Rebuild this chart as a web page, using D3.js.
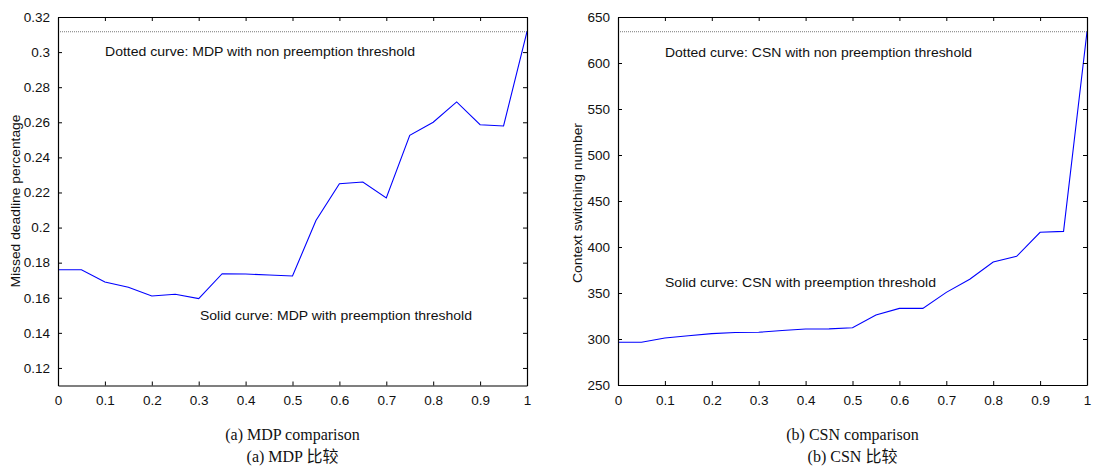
<!DOCTYPE html>
<html>
<head>
<meta charset="utf-8">
<script src="https://cdn.jsdelivr.net/npm/d3@7"></script>
<style>
  body { margin: 0; background: #fff; }
  text { font-family: "Liberation Sans", Arial, sans-serif; fill: #111; }
  .cap { font-family: "Liberation Serif", "Times New Roman", serif; font-size: 16px; }
  .cjk { font-family: "Liberation Serif", "Noto Sans CJK SC", serif; }
</style>
</head>
<body>
<script>
// x values shared by both panels
const xVals = [0, 0.05, 0.1, 0.15, 0.2, 0.25, 0.3, 0.35, 0.4, 0.45, 0.5,
               0.55, 0.6, 0.65, 0.7, 0.75, 0.8, 0.85, 0.9, 0.95, 1];
const xTicks = [0, 0.1, 0.2, 0.3, 0.4, 0.5, 0.6, 0.7, 0.8, 0.9, 1];

// (a) missed deadline percentage
const mdpSolid = [0.176, 0.176, 0.169, 0.166, 0.161, 0.162, 0.1595, 0.1737, 0.1735, 0.173, 0.1724,
                  0.204, 0.225, 0.226, 0.2169, 0.2526, 0.260, 0.2716, 0.2586, 0.2579, 0.3116];
const mdpDotted = 0.3116;
const mdpTicks = [0.12, 0.14, 0.16, 0.18, 0.2, 0.22, 0.24, 0.26, 0.28, 0.3, 0.32];

// (b) context switching number
const csnSolid = [296.4, 296.4, 301.1, 303.5, 305.8, 307, 307.3, 309.2, 310.9, 311, 312.3,
                  326, 333.3, 333.3, 350.7, 364.9, 383.7, 389.9, 416, 417, 634];
const csnDotted = 634;
const csnTicks = [250, 300, 350, 400, 450, 500, 550, 600, 650];

const svg = d3.select("body").append("svg")
  .attr("width", 1093).attr("height", 470);

function drawPanel(o) {
  const x = d3.scaleLinear().domain([0, 1]).range([o.left, o.right]);
  const y = d3.scaleLinear().domain(o.yDomain).range([o.bottom, o.top]);
  const g = svg.append("g");

  // dotted reference line
  g.append("line")
    .attr("x1", x(0)).attr("x2", x(1))
    .attr("y1", y(o.dotted)).attr("y2", y(o.dotted))
    .attr("stroke", "#555").attr("stroke-width", 0.8)
    .attr("stroke-dasharray", "1,1");

  // solid curve
  g.append("path")
    .datum(xVals.map((v, i) => [v, o.solid[i]]))
    .attr("fill", "none").attr("stroke", "#0000ff").attr("stroke-width", 1.1)
    .attr("d", d3.line().x(d => x(d[0])).y(d => y(d[1])));

  // axes, ticks pointing inward, mirrored on top/right
  const fmt = d => String(d);
  g.append("g").attr("transform", `translate(0,${o.bottom})`)
    .call(d3.axisBottom(x).tickValues(xTicks).tickSizeInner(-4).tickSizeOuter(0).tickPadding(10).tickFormat(fmt));
  g.append("g").attr("transform", `translate(0,${o.top})`)
    .call(d3.axisTop(x).tickValues(xTicks).tickSizeInner(-4).tickSizeOuter(0).tickFormat(""));
  g.append("g").attr("transform", `translate(${o.left},0)`)
    .call(d3.axisLeft(y).tickValues(o.yTicks).tickSizeInner(-4).tickSizeOuter(0).tickPadding(8).tickFormat(fmt));
  g.append("g").attr("transform", `translate(${o.right},0)`)
    .call(d3.axisRight(y).tickValues(o.yTicks).tickSizeInner(-4).tickSizeOuter(0).tickFormat(""));

  g.selectAll(".domain").attr("stroke", "#000").attr("stroke-width", 1.2);
  g.selectAll(".tick line").attr("stroke", "#000");
  g.selectAll(".tick text").style("font-size", "13.5px").attr("fill", "#111");

  // annotations, stretched to the widths seen in the original
  g.append("text").attr("x", o.noteX).attr("y", o.note1Y)
    .style("font-size", "13px").attr("textLength", o.note1W).attr("lengthAdjust", "spacingAndGlyphs")
    .text(o.note1);
  g.append("text").attr("x", o.note2X).attr("y", o.note2Y)
    .style("font-size", "13px").attr("textLength", o.note2W).attr("lengthAdjust", "spacingAndGlyphs")
    .text(o.note2);

  // y label
  g.append("text")
    .attr("transform", `translate(${o.labelX},${o.labelY}) rotate(-90)`)
    .attr("text-anchor", "middle").style("font-size", "13px")
    .attr("textLength", o.labelW).attr("lengthAdjust", "spacingAndGlyphs")
    .text(o.yLabel);

  // captions
  const cx = (o.left + o.right) / 2;
  g.append("text").attr("class", "cap").attr("x", cx).attr("y", 440)
    .attr("text-anchor", "middle").text(o.cap1);
  g.append("text").attr("class", "cap cjk").attr("x", cx).attr("y", 462)
    .attr("text-anchor", "middle").text(o.cap2);
}

drawPanel({
  left: 58, right: 527, top: 17, bottom: 385.5,
  yDomain: [0.11, 0.32], yTicks: mdpTicks,
  solid: mdpSolid, dotted: mdpDotted,
  noteX: 105, note1Y: 56, note1W: 310, note2X: 200, note2Y: 320, note2W: 272,
  note1: "Dotted curve: MDP with non preemption threshold",
  note2: "Solid curve: MDP with preemption threshold",
  labelX: 20, labelY: 201, labelW: 173, yLabel: "Missed deadline percentage",
  cap1: "(a) MDP comparison", cap2: "(a) MDP 比较"
});

drawPanel({
  left: 618, right: 1087, top: 17, bottom: 385,
  yDomain: [250, 650], yTicks: csnTicks,
  solid: csnSolid, dotted: csnDotted,
  noteX: 665, note1Y: 57, note1W: 307, note2X: 665, note2Y: 287, note2W: 271,
  note1: "Dotted curve: CSN with non preemption threshold",
  note2: "Solid curve: CSN with preemption threshold",
  labelX: 582, labelY: 203, labelW: 160, yLabel: "Context switching number",
  cap1: "(b) CSN comparison", cap2: "(b) CSN 比较"
});
</script>
</body>
</html>
